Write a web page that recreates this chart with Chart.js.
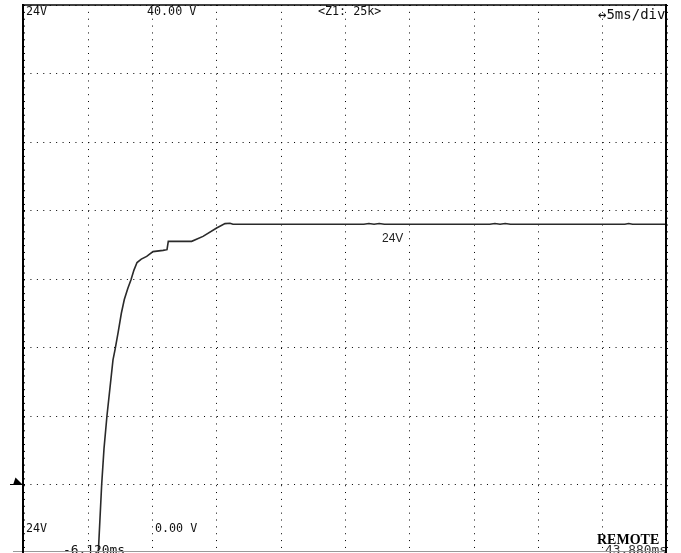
<!DOCTYPE html>
<html>
<head>
<meta charset="utf-8">
<script src="https://cdn.jsdelivr.net/npm/chart.js@4/dist/chart.umd.min.js"></script>
<style>
  html, body { margin: 0; padding: 0; background: #fff; overflow: hidden; }
  canvas { display: block; }
</style>
</head>
<body>
<canvas id="scope" width="681" height="553"></canvas>
<script>
// Horizontal axis: 5 ms/div over 10 divisions
const timeStartMs = -6.12;
const timeEndMs = 43.88;
const timePerDivMs = 5;

// Vertical axis: 5 V/div over 8 divisions
const voltBottom = 0;
const voltTop = 40;
const voltPerDiv = 5;

// Captured waveform of the 24V channel (ms, V)
const traceTimeMs = [
  -0.37, -0.08, 0.10, 0.33, 0.80, 0.96, 1.20, 1.45, 1.68, 1.95,
  2.20, 2.43, 2.67, 3.00, 3.42, 3.91, 4.69, 5.00, 5.10, 6.92,
  7.80, 8.86, 9.51, 9.90, 10.13, 20.3, 20.7, 21.1, 21.5, 21.9,
  30.1, 30.5, 30.9, 31.3, 31.7, 40.6, 40.9, 41.2, 43.88
];
const traceVolts = [
  -0.5, 5.0, 7.6, 10.0, 14.1, 14.85, 16.1, 17.5, 18.5, 19.3,
  19.95, 20.65, 21.2, 21.45, 21.65, 22.0, 22.09, 22.14, 22.75, 22.75,
  23.11, 23.72, 24.04, 24.07, 24.0, 24.0, 24.05, 24.0, 24.05, 24.0,
  24.0, 24.05, 24.0, 24.05, 24.0, 24.0, 24.05, 24.0, 24.0
];

// Annotations shown on the screen
const channelName = '24V';
const settledLevel = 24;     // level tag placed beside the settled trace
const markerLevel = 5;       // channel marker at the left edge
const zoomText = '<Z1: 25k>';
const sweepText = '\u21945ms/div';
const statusText = 'REMOTE';

const points = traceTimeMs.map((t, i) => ({ x: t, y: traceVolts[i] }));

function stepTicks(from, to, step) {
  const out = [];
  const n = Math.round((to - from) / step);
  for (let i = 0; i <= n; i++) out.push({ value: from + i * step });
  return out;
}

const MONO = '"DejaVu Sans Mono", "Liberation Mono", monospace';

const screenText = {
  id: 'screenText',
  afterDatasetsDraw(chart) {
    const { ctx, chartArea: a, scales } = chart;
    const yS = scales.y;
    ctx.save();
    ctx.textBaseline = 'alphabetic';
    ctx.fillStyle = '#111';

    ctx.font = '11.7px ' + MONO;
    ctx.textAlign = 'left';
    ctx.fillText(channelName, a.left + 2, 15);
    ctx.fillText(voltTop.toFixed(2) + ' V', 147, 15);
    ctx.fillText(zoomText, 318, 15);
    ctx.fillText(channelName, a.left + 2, 531.5);
    ctx.fillText(voltBottom.toFixed(2) + ' V', 155, 531.5);

    ctx.font = '14px ' + MONO;
    ctx.fillText(sweepText, 598, 18.5);

    ctx.font = '12.9px ' + MONO;
    ctx.fillText(timeStartMs.toFixed(3) + 'ms', 63, 553.5);
    ctx.fillStyle = '#333';
    ctx.textAlign = 'right';
    ctx.fillText(timeEndMs.toFixed(3) + 'ms', a.right, 553.5);

    ctx.fillStyle = '#000';
    ctx.textAlign = 'left';
    ctx.font = 'bold 14px "Liberation Serif", serif';
    ctx.fillText(statusText, 597, 544);

    // level tag under the settled trace
    ctx.fillStyle = '#222';
    ctx.font = '12px "Liberation Sans", Arial, sans-serif';
    ctx.fillText(settledLevel + 'V', 382, yS.getPixelForValue(settledLevel) + 18);

    // channel marker
    const my = Math.round(yS.getPixelForValue(markerLevel)) - 0.5;
    ctx.fillStyle = '#000';
    ctx.strokeStyle = '#000';
    ctx.lineWidth = 1;
    ctx.beginPath();
    ctx.moveTo(10, my);
    ctx.lineTo(a.left - 1, my);
    ctx.stroke();
    ctx.beginPath();
    ctx.moveTo(15.5, my - 7);
    ctx.lineTo(13, my + 0.5);
    ctx.lineTo(23, my + 0.5);
    ctx.closePath();
    ctx.fill();
    ctx.restore();
  },
  afterDraw(chart) {
    const { ctx, chartArea: a } = chart;
    ctx.save();
    ctx.strokeStyle = '#999';
    ctx.lineWidth = 1;
    ctx.beginPath();
    ctx.moveTo(13, 551.5);
    ctx.lineTo(a.right, 551.5);
    ctx.stroke();

    ctx.strokeStyle = '#000';
    ctx.lineWidth = 1.5;
    ctx.beginPath();
    ctx.moveTo(a.left - 1, a.top);
    ctx.lineTo(a.right, a.top);
    ctx.stroke();

    ctx.lineWidth = 2;
    ctx.beginPath();
    ctx.moveTo(a.left - 1, a.top - 1);
    ctx.lineTo(a.left - 1, 553);
    ctx.moveTo(a.right - 1, a.top - 1);
    ctx.lineTo(a.right - 1, 553);
    ctx.stroke();
    ctx.restore();
  }
};

new Chart(document.getElementById('scope'), {
  type: 'line',
  data: {
    datasets: [{
      data: points,
      borderColor: '#2a2a2a',
      borderWidth: 1.6,
      pointRadius: 0,
      tension: 0,
      fill: false
    }]
  },
  options: {
    responsive: false,
    animation: false,
    devicePixelRatio: 1,
    layout: { padding: { left: 24, top: 5, right: 14, bottom: -1 } },
    plugins: { legend: { display: false }, tooltip: { enabled: false } },
    scales: {
      x: {
        type: 'linear',
        min: timeStartMs,
        max: timeEndMs,
        afterBuildTicks: s => { s.ticks = stepTicks(timeStartMs, timeEndMs, timePerDivMs); },
        afterFit: s => { s.height = 0; },
        ticks: { display: false },
        grid: { color: '#000', lineWidth: 1, drawTicks: false },
        border: { display: false, dash: [1, 5.86] }
      },
      y: {
        type: 'linear',
        min: voltBottom,
        max: voltTop,
        afterBuildTicks: s => { s.ticks = stepTicks(voltBottom, voltTop, voltPerDiv); },
        afterFit: s => { s.width = 0; },
        ticks: { display: false },
        grid: { color: '#000', lineWidth: 1, drawTicks: false },
        border: { display: false, dash: [1, 5.43] }
      }
    }
  },
  plugins: [screenText]
});
</script>
</body>
</html>
